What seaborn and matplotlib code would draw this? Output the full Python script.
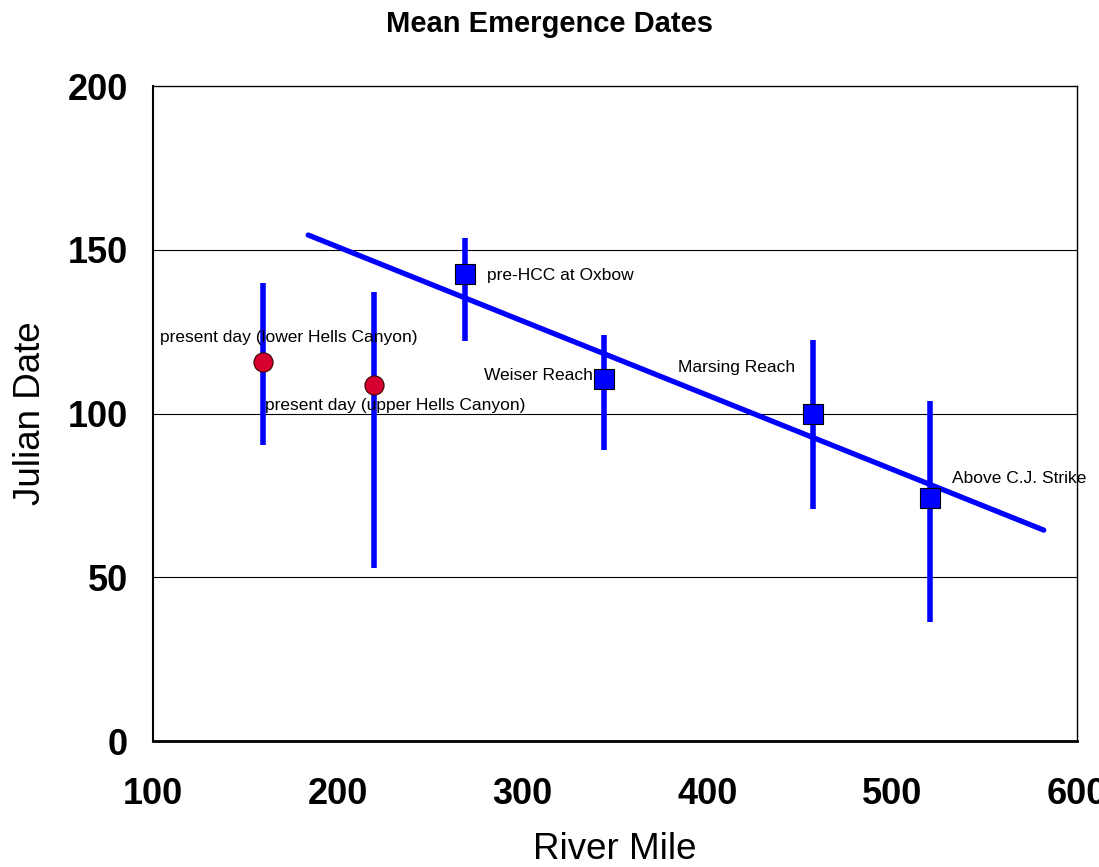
import matplotlib
matplotlib.use("Agg")
import matplotlib.pyplot as plt
import seaborn as sns
import pandas as pd

# ---- data ----
red_x = [159.5, 219.5]
red_y = [115.7, 108.7]
red_lo = [90.4, 52.8]
red_hi = [140.0, 137.0]

blue_x = [269.0, 344.0, 457.0, 520.5]
blue_y = [142.6, 110.5, 99.8, 74.2]
blue_lo = [122.1, 88.9, 70.8, 36.3]
blue_hi = [153.6, 124.0, 122.4, 103.8]

trend_x = [184.0, 582.0]
trend_y = [154.5, 64.4]

labels = ["present day (lower Hells Canyon)", "present day (upper Hells Canyon)",
          "pre-HCC at Oxbow", "Weiser Reach", "Marsing Reach", "Above C.J. Strike"]
label_x = [103.8, 160.5, 280.5, 279.0, 384.3, 532.4]
label_y = [123.1, 102.3, 142.0, 111.5, 114.2, 80.3]

x_ticks = [100, 200, 300, 400, 500, 600]
y_ticks = [0, 50, 100, 150, 200]

sns.set_theme(style="white")
plt.rcParams['font.family'] = ['Liberation Sans', 'DejaVu Sans']
plt.rcParams['text.color'] = 'black'
plt.rcParams['axes.labelcolor'] = 'black'
plt.rcParams['xtick.color'] = 'black'
plt.rcParams['ytick.color'] = 'black'

fig = plt.figure(figsize=(10.99, 8.67), dpi=100)
ax = fig.add_axes([0.1392, 0.1453, 0.8408, 0.7555])

# gridlines
for yv in [50, 100, 150]:
    ax.axhline(yv, color="black", lw=0.8, zorder=0)

# error bars
ax.vlines(red_x, red_lo, red_hi, color="#0000ff", lw=4.0, zorder=2)
ax.vlines(blue_x, blue_lo, blue_hi, color="#0000ff", lw=4.0, zorder=2)

# trend line
sns.lineplot(x=trend_x, y=trend_y, ax=ax, color="#0000ff", lw=3.8, zorder=3)

# markers
sns.scatterplot(x=red_x, y=red_y, ax=ax, marker="o", s=190, color="#d6002e",
                edgecolor="#3a0000", linewidth=0.8, zorder=4)
sns.scatterplot(x=blue_x, y=blue_y, ax=ax, marker="s", s=200, color="#0000ff",
                edgecolor="black", linewidth=0.8, zorder=4)

for t, lx, ly in zip(labels, label_x, label_y):
    ax.text(lx, ly, t, fontsize=12.5, ha="left", va="center", color="black",
            zorder=5, clip_on=False)

ax.set_xlim(100, 600)
ax.set_ylim(0, 200)
ax.set_xticks(x_ticks)
ax.set_yticks(y_ticks)
ax.set_xticklabels([str(v) for v in x_ticks], fontsize=26, fontweight="bold")
ax.set_yticklabels([str(v) for v in y_ticks], fontsize=26, fontweight="bold")
ax.tick_params(axis="x", length=0, pad=26)
ax.tick_params(axis="y", length=0, pad=18)

ax.set_xlabel("River Mile", fontsize=26.5, labelpad=14)
ax.set_ylabel("Julian Date", fontsize=26.5, labelpad=14)
fig.suptitle("Mean Emergence Dates", fontsize=21, fontweight="bold", y=0.988)

for side in ["top", "right", "left"]:
    ax.spines[side].set_color("black")
    ax.spines[side].set_linewidth(1.0)
ax.spines["bottom"].set_color("black")
ax.spines["bottom"].set_linewidth(2.0)
ax.spines["left"].set_linewidth(1.5)

fig.savefig("out.png", dpi=100, facecolor="white")
